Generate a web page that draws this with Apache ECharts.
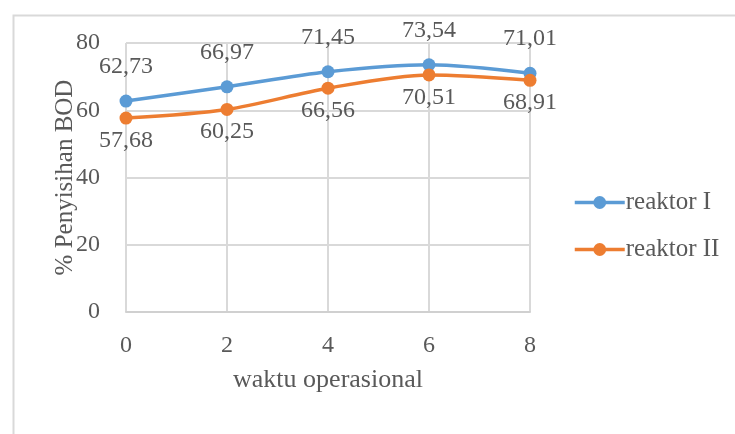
<!DOCTYPE html>
<html>
<head>
<meta charset="utf-8">
<script src="https://cdn.jsdelivr.net/npm/echarts@6/dist/echarts.min.js"></script>
<style>
	html, body { margin: 0; padding: 0; background: #fff; }
	#chart { width: 735px; height: 434px; }
</style>
</head>
<body>
<div id="chart"></div>
<script>
	var categories = ['0', '2', '4', '6', '8']
	var reaktor1 = [62.73, 66.97, 71.45, 73.54, 71.01]
	var reaktor2 = [57.68, 60.25, 66.56, 70.51, 68.91]
	var seriesNames = ['reaktor I', 'reaktor II']

	var font = '"Liberation Serif", "Times New Roman", serif'
	var textColor = '#595959'

	function koma(p) {
		return p.value.toFixed(2).replace('.', ',')
	}

	var myChart = echarts.init(document.getElementById('chart'))
	var option = {
		backgroundColor: '#fff',
		textStyle: { fontFamily: font },
		graphic: [{
			type: 'rect',
			left: 11,
			top: 13,
			shape: { width: 760, height: 460 },
			style: { fill: 'none', stroke: '#d9d9d9', lineWidth: 2 },
			silent: true
		}],
		grid: {
			left: 126,
			right: 205,
			top: 43,
			bottom: 122
		},
		legend: {
			orient: 'vertical',
			left: 568,
			top: 185,
			itemGap: 22,
			itemWidth: 50,
			itemHeight: 16,
			data: seriesNames,
			lineStyle: { width: 3.5 },
			textStyle: { fontFamily: font, fontSize: 25, color: textColor, padding: [0, 0, 0, -4] }
		},
		xAxis: {
			type: 'category',
			boundaryGap: false,
			data: categories,
			name: 'waktu operasional',
			nameLocation: 'middle',
			nameGap: 55,
			nameMoveOverlap: false,
			nameTextStyle: { fontFamily: font, fontSize: 26, color: textColor },
			axisLine: { lineStyle: { color: '#d0d0d0', width: 2 } },
			axisTick: { show: false },
			axisLabel: { fontFamily: font, fontSize: 24, color: textColor, margin: 22 },
			splitLine: { show: true, lineStyle: { color: '#d9d9d9', width: 2 } }
		},
		yAxis: {
			type: 'value',
			min: 0,
			max: 80,
			interval: 20,
			name: '% Penyisihan BOD',
			nameLocation: 'middle',
			nameGap: 48,
			nameMoveOverlap: false,
			nameTextStyle: { fontFamily: font, fontSize: 25, color: textColor },
			axisLine: { show: false },
			axisTick: { show: false },
			axisLabel: { fontFamily: font, fontSize: 24, color: textColor, margin: 26 },
			splitLine: { show: true, lineStyle: { color: '#d9d9d9', width: 2 } }
		},
		series: [{
			name: seriesNames[0],
			type: 'line',
			smooth: 0.3,
			data: reaktor1,
			symbol: 'circle',
			symbolSize: 13,
			itemStyle: { color: '#5b9bd5' },
			lineStyle: { width: 3.5, color: '#5b9bd5' },
			label: {
				show: true,
				position: 'top',
				distance: 16,
				formatter: koma,
				fontFamily: font,
				fontSize: 24,
				color: textColor
			}
		}, {
			name: seriesNames[1],
			type: 'line',
			smooth: 0.3,
			data: reaktor2,
			symbol: 'circle',
			symbolSize: 13,
			itemStyle: { color: '#ed7d31' },
			lineStyle: { width: 3.5, color: '#ed7d31' },
			label: {
				show: true,
				position: 'bottom',
				distance: 4,
				formatter: koma,
				fontFamily: font,
				fontSize: 24,
				color: textColor
			}
		}]
	}
	myChart.setOption(option)
</script>
</body>
</html>
